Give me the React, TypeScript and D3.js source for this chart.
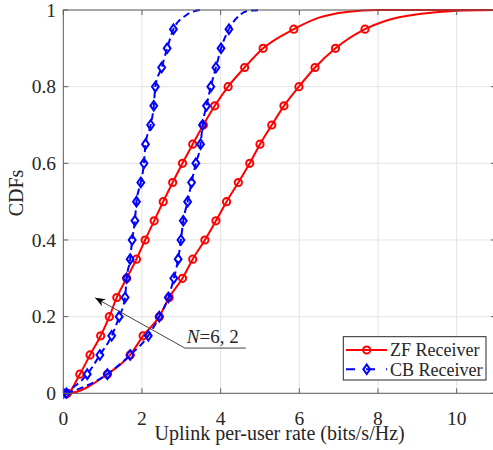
import React, { useRef, useEffect } from 'react';
import * as d3 from 'd3';

// CDF levels at which the markers sit
const cdfLevels = [0, 0.05, 0.1, 0.15, 0.2, 0.25, 0.3, 0.35, 0.4, 0.45, 0.5, 0.55, 0.6, 0.65, 0.7, 0.75, 0.8, 0.85, 0.9, 0.95];

// ZF receiver, N = 6 and N = 2
const zfN6Rate = [0.1, 0.42, 0.68, 0.95, 1.17, 1.36, 1.61, 1.86, 2.08, 2.31, 2.54, 2.78, 3.03, 3.29, 3.56, 3.85, 4.19, 4.61, 5.08, 5.86];
const zfN6TailRate = [6.5, 7.2, 8.0, 11];
const zfN6TailCdf = [0.98, 0.995, 1, 1];

const zfN2Rate = [0.1, 1.12, 1.7, 2.03, 2.44, 2.69, 3.03, 3.29, 3.6, 3.88, 4.15, 4.45, 4.74, 5.0, 5.3, 5.61, 5.99, 6.4, 6.92, 7.67];
const zfN2TailRate = [8.2, 9.1, 10.0, 11];
const zfN2TailCdf = [0.972, 0.99, 0.998, 1];

// CB receiver, N = 6 and N = 2
const cbN6Rate = [0, 0.61, 0.93, 1.23, 1.42, 1.57, 1.61, 1.7, 1.75, 1.82, 1.86, 1.97, 2.05, 2.09, 2.22, 2.3, 2.34, 2.5, 2.64, 2.8];
const cbN6TailRate = [3.13, 3.47];
const cbN6TailCdf = [0.987, 1];

const cbN2Rate = [0.08, 1.12, 1.7, 2.16, 2.44, 2.67, 2.81, 2.92, 2.99, 3.05, 3.16, 3.26, 3.37, 3.49, 3.54, 3.64, 3.75, 3.88, 4.01, 4.21];
const cbN2TailRate = [4.49, 4.66, 5.05];
const cbN2TailCdf = [0.987, 0.997, 1];

const xTicks = [0, 2, 4, 6, 8, 10];
const yTicks = [0, 0.2, 0.4, 0.6, 0.8, 1];
const legendLabels = ['ZF Receiver', 'CB Receiver'];

const RED = '#ff0000';
const BLUE = '#0000ff';
const FONT = 'Liberation Serif, Times New Roman, serif';

type Pt = [number, number];

const App = () => {
  const svgRef = useRef<SVGSVGElement | null>(null);

  useEffect(() => {
    d3.select(svgRef.current).selectAll('*').remove();
    const svg = d3.select(svgRef.current);
    const width = 493;
    const height = 450;
    const left = 63.3;
    const right = 496;
    const top = 10;
    const bottom = 393.3;

    svg.attr('width', width).attr('height', height);

    const x = d3.scaleLinear().domain([0, 11]).range([left, right]);
    const y = d3.scaleLinear().domain([0, 1]).range([bottom, top]);

    svg.append('rect').attr('width', width).attr('height', height).attr('fill', '#fff');

    const defs = svg.append('defs');
    defs
      .append('clipPath')
      .attr('id', 'plotClip')
      .append('rect')
      .attr('x', left)
      .attr('y', top - 6)
      .attr('width', right - left + 6)
      .attr('height', bottom - top + 12);
    defs
      .append('marker')
      .attr('id', 'arrowHead')
      .attr('viewBox', '0 0 10 8')
      .attr('refX', 10)
      .attr('refY', 4)
      .attr('markerWidth', 10)
      .attr('markerHeight', 8)
      .attr('markerUnits', 'userSpaceOnUse')
      .attr('orient', 'auto')
      .append('path')
      .attr('d', 'M0,0 L10,4 L0,8 L3,4 Z')
      .attr('fill', '#000');

    // grid
    const grid = svg.append('g').attr('stroke', '#e3e3e3').attr('stroke-width', 1);
    xTicks.forEach((t) => {
      grid.append('line').attr('x1', x(t)).attr('x2', x(t)).attr('y1', top).attr('y2', bottom);
    });
    yTicks.forEach((t) => {
      grid.append('line').attr('x1', left).attr('x2', right).attr('y1', y(t)).attr('y2', y(t));
    });

    const line = d3
      .line<Pt>()
      .x((d) => x(d[0]))
      .y((d) => y(d[1]))
      .curve(d3.curveMonotoneX);

    const series = [
      { rate: zfN6Rate, tailRate: zfN6TailRate, tailCdf: zfN6TailCdf, color: RED, kind: 'circle' },
      { rate: zfN2Rate, tailRate: zfN2TailRate, tailCdf: zfN2TailCdf, color: RED, kind: 'circle' },
      { rate: cbN6Rate, tailRate: cbN6TailRate, tailCdf: cbN6TailCdf, color: BLUE, kind: 'diamond' },
      { rate: cbN2Rate, tailRate: cbN2TailRate, tailCdf: cbN2TailCdf, color: BLUE, kind: 'diamond' },
    ];

    const plot = svg.append('g').attr('clip-path', 'url(#plotClip)');

    const drawMarker = (g: any, kind: string, color: string, cx: number, cy: number) => {
      if (kind === 'circle') {
        g.append('circle')
          .attr('cx', cx)
          .attr('cy', cy)
          .attr('r', 3.6)
          .attr('fill', 'none')
          .attr('stroke', color)
          .attr('stroke-width', 2);
      } else {
        g.append('path')
          .attr('d', `M${cx},${cy - 4.8} L${cx + 3.4},${cy} L${cx},${cy + 4.8} L${cx - 3.4},${cy} Z`)
          .attr('fill', 'none')
          .attr('stroke', color)
          .attr('stroke-width', 2);
      }
    };

    series.forEach((s) => {
      const pts: Pt[] = s.rate.map((r, i) => [r, cdfLevels[i]] as Pt);
      s.tailRate.forEach((r, i) => pts.push([r, s.tailCdf[i]]));
      if (s.kind === 'circle') pts.unshift([0, 0]);
      plot
        .append('path')
        .datum(pts)
        .attr('d', line)
        .attr('fill', 'none')
        .attr('stroke', s.color)
        .attr('stroke-width', 2)
        .attr('stroke-dasharray', s.kind === 'diamond' ? '7,4' : null);
      const mg = plot.append('g');
      s.rate.forEach((r, i) => drawMarker(mg, s.kind, s.color, x(r), y(cdfLevels[i])));
    });

    // axes box with inward ticks
    const axis = svg.append('g').attr('stroke', '#5f5f5f').attr('stroke-width', 1).attr('fill', 'none');
    axis.append('rect').attr('x', left).attr('y', top).attr('width', right - left).attr('height', bottom - top);
    xTicks.forEach((t) => {
      axis.append('line').attr('x1', x(t)).attr('x2', x(t)).attr('y1', bottom).attr('y2', bottom - 5);
      axis.append('line').attr('x1', x(t)).attr('x2', x(t)).attr('y1', top).attr('y2', top + 5);
    });
    yTicks.forEach((t) => {
      axis.append('line').attr('x1', left).attr('x2', left + 5).attr('y1', y(t)).attr('y2', y(t));
      axis.append('line').attr('x1', right).attr('x2', right - 5).attr('y1', y(t)).attr('y2', y(t));
    });

    // tick labels
    const labels = svg.append('g').attr('font-family', FONT).attr('fill', '#262626').attr('font-size', 19.5);
    xTicks.forEach((t) => {
      labels.append('text').attr('x', x(t)).attr('y', 425).attr('text-anchor', 'middle').text(String(t));
    });
    yTicks.forEach((t) => {
      labels
        .append('text')
        .attr('x', 56)
        .attr('y', y(t))
        .attr('dy', '0.35em')
        .attr('text-anchor', 'end')
        .text(String(t));
    });

    // axis titles
    svg
      .append('text')
      .attr('x', (left + right) / 2)
      .attr('y', 440)
      .attr('text-anchor', 'middle')
      .attr('font-family', FONT)
      .attr('font-size', 20)
      .attr('fill', '#262626')
      .text('Uplink per-user rate (bits/s/Hz)');
    svg
      .append('text')
      .attr('transform', `translate(23, 193) rotate(-90)`)
      .attr('text-anchor', 'middle')
      .attr('font-family', FONT)
      .attr('font-size', 20)
      .attr('fill', '#262626')
      .text('CDFs');

    // annotation
    const ann = svg.append('g');
    ann
      .append('polyline')
      .attr('points', `${x(4.64)},${y(0.118)} ${x(3.09)},${y(0.118)} ${x(0.81)},${y(0.249)}`)
      .attr('fill', 'none')
      .attr('stroke', '#444')
      .attr('stroke-width', 1)
      .attr('marker-end', 'url(#arrowHead)');
    const annText = ann
      .append('text')
      .attr('x', x(3.14))
      .attr('y', 342.5)
      .attr('font-family', FONT)
      .attr('font-size', 19)
      .attr('fill', '#262626');
    annText.append('tspan').attr('font-style', 'italic').text('N');
    annText.append('tspan').text('=6, 2');

    // legend
    const lg = svg.append('g');
    lg.append('rect')
      .attr('x', 343.3)
      .attr('y', 336.7)
      .attr('width', 142.7)
      .attr('height', 43.3)
      .attr('fill', '#fff')
      .attr('stroke', '#262626')
      .attr('stroke-width', 1);
    const legendRows = [
      { color: RED, kind: 'circle', cy: 350 },
      { color: BLUE, kind: 'diamond', cy: 369.3 },
    ];
    legendRows.forEach((row, i) => {
      lg.append('line')
        .attr('x1', 346)
        .attr('x2', 387)
        .attr('y1', row.cy)
        .attr('y2', row.cy)
        .attr('stroke', row.color)
        .attr('stroke-width', 2)
        .attr('stroke-dasharray', row.kind === 'diamond' ? '9,11' : null);
      drawMarker(lg, row.kind, row.color, 366.7, row.cy);
      lg.append('text')
        .attr('x', 390)
        .attr('y', row.cy)
        .attr('dy', '0.35em')
        .attr('font-family', FONT)
        .attr('font-size', 18)
        .attr('fill', '#262626')
        .text(legendLabels[i]);
    });
  }, []);

  return <svg ref={svgRef} style={{ position: 'absolute', left: 0, top: 0, display: 'block' }}></svg>;
};

export default App;
